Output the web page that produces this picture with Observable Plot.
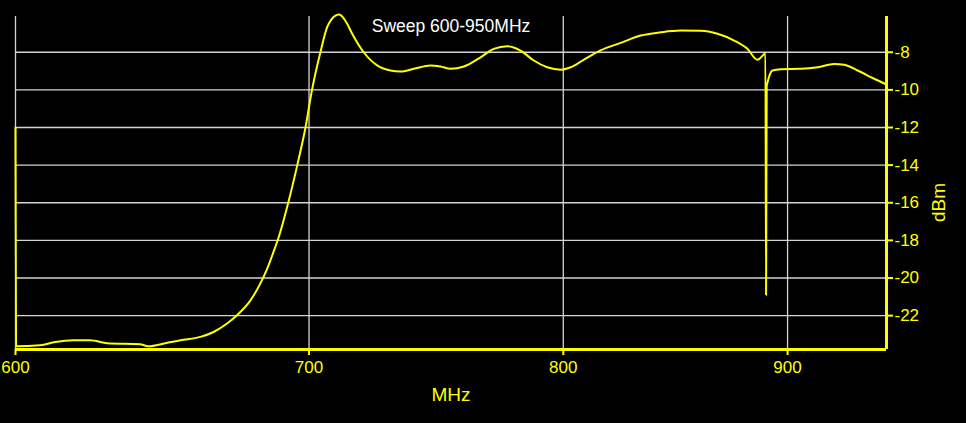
<!DOCTYPE html>
<html>
<head>
<meta charset="utf-8">
<script src="https://cdn.jsdelivr.net/npm/d3@7"></script>
<script src="https://cdn.jsdelivr.net/npm/@observablehq/plot@0.6"></script>
<style>
  body { margin: 0; background: #000; }
  #chart svg { display: block; }
</style>
</head>
<body>
<div id="chart"></div>
<script>
// sweep values
const freqMHz = [600, 600.2, 607.8, 612.7, 618.5, 624.0, 629.6, 640.6, 643.3, 649.1, 654.3, 661.2, 665.8,
  670.5, 674.0, 678.8, 682.3, 684.8, 687.1, 688.9, 692.4, 695.7, 698.7, 701.1, 704.2, 706.7,
  708.3, 709.8, 711.2, 712.3, 714.0, 716.0, 720.4, 725.5, 730.6, 734.4, 739.6, 746.1, 750.0,
  754.0, 759.3, 766.0, 771.3, 776.8, 782.2, 787.7, 793.3, 798.9, 803.1, 808.6, 815.8, 824.5,
  833.2, 842.0, 850.9, 859.9, 867.5, 875.1, 881.2, 885.9, 889.0, 889.6, 889.9, 890.0, 890.2,
  890.6, 891.3, 892.9, 896.8, 906.3, 914.3, 922.3, 927.2, 933.7, 941.9, 947.7];
const levelDbm = [-12, -23.63, -23.58, -23.4, -23.31, -23.31, -23.47, -23.52, -23.63, -23.47, -23.31, -23.13, -22.87,
  -22.42, -21.98, -21.19, -20.3, -19.5, -18.6, -17.85, -16.0, -14.0, -12.0, -10.0, -8.0, -6.67,
  -6.25, -6.05, -6.0, -6.1, -6.45, -7.0, -8.0, -8.7, -8.97, -9.03, -8.88, -8.7, -8.76,
  -8.88, -8.76, -8.27, -7.82, -7.68, -7.91, -8.44, -8.8, -8.93, -8.8, -8.4, -7.9, -7.5,
  -7.11, -6.94, -6.85, -6.86, -7.02, -7.38, -7.82, -8.4, -8.1, -8.05, -20.9, -16.8, -9.8,
  -9.6, -9.3, -8.97, -8.9, -8.88, -8.8, -8.62, -8.66, -8.97, -9.41, -9.7];

const xTicks = [600, 700, 800, 900];
const yTicks = [-8, -10, -12, -14, -16, -18, -20, -22];
const xDomain = [600, 948];
const yDomain = [-23.8, -6.1];

const title = "Sweep 600-950MHz";
const xLabel = "MHz";
const yLabel = "dBm";

const sweep = freqMHz.map((f, i) => ({f, db: levelDbm[i]}));

const yellow = "#ffff00";
const gridColor = "#d4d4d4";

const chart = Plot.plot({
  width: 966,
  height: 423,
  marginLeft: 15,
  marginRight: 80,
  marginTop: 16,
  marginBottom: 74,
  style: {
    background: "#000",
    color: yellow,
    fontFamily: "'Liberation Sans', Arial, sans-serif",
    fontSize: "17px"
  },
  x: {type: "log", domain: xDomain},
  y: {domain: yDomain},
  marks: [
    Plot.ruleY(yTicks, {y: d => d, stroke: gridColor, strokeWidth: 1.3}),
    Plot.ruleX(xTicks, {x: d => d, stroke: gridColor, strokeWidth: 1.3}),
    Plot.ruleY([yDomain[0]], {stroke: yellow, strokeWidth: 3}),
    Plot.ruleX([xDomain[1]], {stroke: yellow, strokeWidth: 3}),
    Plot.line(sweep, {x: "f", y: "db", stroke: yellow, strokeWidth: 2, curve: "monotone-x"}),
    Plot.axisX({ticks: xTicks, tickFormat: d => String(d), tickSize: 6, tickPadding: 5,
      stroke: yellow, strokeWidth: 2, label: null, fill: yellow}),
    Plot.axisY({anchor: "right", ticks: yTicks, tickFormat: d => String(d), tickSize: 6,
      tickPadding: 2, strokeWidth: 2, label: null, fill: yellow}),
    Plot.text([title], {frameAnchor: "top", dy: 10, lineAnchor: "middle", fill: "#fff",
      fontSize: 17.5, text: d => d}),
    Plot.text([xLabel], {frameAnchor: "bottom", dy: 45, lineAnchor: "middle", fill: yellow,
      fontSize: 19, text: d => d}),
    Plot.text([yLabel], {frameAnchor: "right", dx: 52, rotate: -90, lineAnchor: "middle",
      fill: yellow, fontSize: 19, text: d => d})
  ]
});

d3.select('#chart').append(() => chart);
</script>
</body>
</html>
